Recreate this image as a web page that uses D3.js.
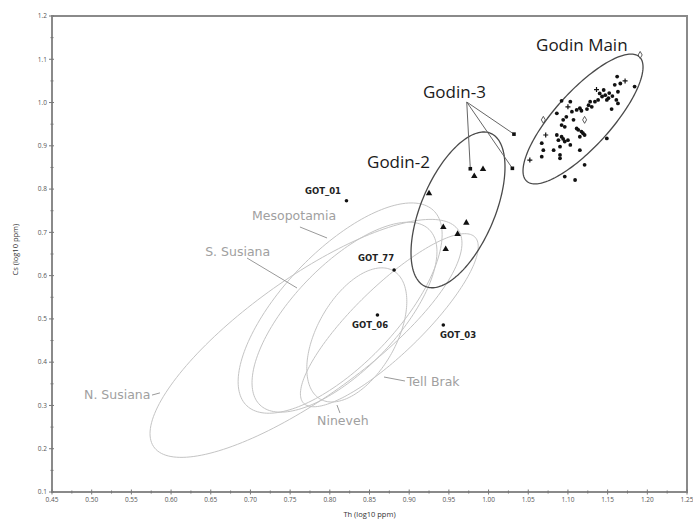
<!DOCTYPE html>
<html lang="en">
<head>
<meta charset="UTF-8">
<title>Cs vs Th</title>
<style>
  body { margin: 0; background: #fff; font-family: "Open Sans", sans-serif; }
</style>
</head>
<body>
<div id="chart"></div>
<script src="https://d3js.org/d3.v7.min.js"></script>
<script>
// ---- data (log10 ppm) ----
const xTicks = [0.45, 0.50, 0.55, 0.60, 0.65, 0.70, 0.75, 0.80, 0.85, 0.90, 0.95, 1.00, 1.05, 1.10, 1.15, 1.20, 1.25];
const yTicks = [0.1, 0.2, 0.3, 0.4, 0.5, 0.6, 0.7, 0.8, 0.9, 1.0, 1.1, 1.2];

// Godin Main samples [Th, Cs]
const godinMain = [
  [1.162, 1.060], [1.166, 1.044], [1.159, 1.041], [1.184, 1.037], [1.163, 1.025],
  [1.161, 1.006], [1.163, 0.998], [1.155, 0.985], [1.145, 1.029], [1.140, 1.021],
  [1.143, 1.014], [1.147, 1.017], [1.151, 1.010], [1.149, 1.006], [1.138, 1.006],
  [1.134, 1.002], [1.128, 1.002], [1.126, 0.994], [1.130, 0.990], [1.115, 0.987],
  [1.111, 0.983], [1.117, 0.981], [1.105, 0.979], [1.103, 1.002], [1.092, 1.004],
  [1.107, 0.960], [1.098, 0.967], [1.094, 0.960], [1.092, 0.948], [1.096, 0.944],
  [1.086, 0.975], [1.113, 0.937], [1.117, 0.933], [1.121, 0.925], [1.115, 0.921],
  [1.086, 0.925], [1.092, 0.921], [1.096, 0.910], [1.100, 0.913], [1.088, 0.913],
  [1.103, 0.902], [1.090, 0.898], [1.067, 0.906], [1.069, 0.890], [1.067, 0.875],
  [1.082, 0.890], [1.090, 0.879], [1.090, 0.871], [1.115, 0.890], [1.121, 0.856],
  [1.096, 0.829], [1.109, 0.821], [1.149, 0.917], [1.152, 1.022], [1.156, 1.015],
  [1.119, 0.929], [1.111, 0.940], [1.094, 0.916], [1.124, 0.985]
];
const godinMainCross = [[1.052, 0.867], [1.072, 0.925], [1.136, 1.030], [1.172, 1.050], [1.100, 0.990]];
const godinMainOpen = [[1.069, 0.960], [1.121, 0.960], [1.191, 1.110]];
const godin2 = [[0.925, 0.790], [0.943, 0.712], [0.972, 0.722], [0.961, 0.696], [0.946, 0.661], [0.993, 0.846], [0.982, 0.830]];
const godin3 = [[0.977, 0.847], [1.032, 0.927], [1.030, 0.848]];
const gotNames = ["GOT_01", "GOT_77", "GOT_06", "GOT_03"];
const gotTh = [0.821, 0.881, 0.860, 0.943];
const gotCs = [0.773, 0.613, 0.509, 0.486];

// reference group ellipses: centre, half-extent in x and y, correlation
const groupNames = ["N. Susiana", "Mesopotamia", "S. Susiana", "Nineveh", "Tell Brak", "Godin-2", "Godin Main"];
const groupCx = [0.770, 0.813, 0.8185, 0.834, 0.875, 0.9615, 1.119];
const groupCy = [0.455, 0.525, 0.504, 0.463, 0.497, 0.752, 0.962];
const groupRx = [0.1965, 0.1285, 0.1165, 0.063, 0.112, 0.0592, 0.0756];
const groupRy = [0.275, 0.243, 0.2195, 0.155, 0.200, 0.180, 0.150];
const groupRho = [0.80, 0.70, 0.69, 0.50, 0.85, 0.55, 0.80];
const groupDark = [false, false, false, false, false, true, true];

// text annotations [text, x, y]
const grayLabels = [["N. Susiana", 0.574, 0.324, "end"], ["S. Susiana", 0.643, 0.655, "start"], ["Mesopotamia", 0.702, 0.738, "start"],
  ["Nineveh", 0.784, 0.266, "start"], ["Tell Brak", 0.897, 0.354, "start"]];
const grayLeaders = [[0.576, 0.324, 0.586, 0.329], [0.6957, 0.6407, 0.7587, 0.5714], [0.7624, 0.7124, 0.7965, 0.687],
  [0.809, 0.301, 0.8128, 0.2825], [0.8683, 0.3657, 0.8947, 0.3565]];
const darkLabels = [["Godin Main", 1.0598, 1.133], ["Godin-3", 0.9174, 1.0244], ["Godin-2", 0.8469, 0.8626]];
const godin3From = [0.9725, 1.0012];
const gotLabelPos = [[0.7687, 0.7956], [0.8355, 0.6407], [0.828, 0.4859], [0.9388, 0.4628]];

const width = 693, height = 521;
const margin = { top: 16, right: 6, bottom: 29, left: 52 };

const svg = d3.select("#chart").append("svg")
  .attr("width", width)
  .attr("height", height)
  .attr("viewBox", [0, 0, width, height]);

const x = d3.scaleLinear().domain([0.45, 1.25]).range([margin.left, width - margin.right]);
const y = d3.scaleLinear().domain([0.1, 1.2]).range([height - margin.bottom, margin.top]);

// ellipses
const ellipsePath = i => {
  const phi = Math.acos(groupRho[i]);
  const pts = d3.range(0, 2 * Math.PI, Math.PI / 90)
    .map(t => [groupCx[i] + groupRx[i] * Math.cos(t), groupCy[i] + groupRy[i] * Math.cos(t - phi)]);
  return d3.line().x(d => x(d[0])).y(d => y(d[1])).curve(d3.curveLinearClosed)(pts);
};

svg.append("g")
  .selectAll("path")
  .data(d3.range(groupNames.length))
  .join("path")
  .attr("d", ellipsePath)
  .attr("fill", "none")
  .attr("stroke", i => groupDark[i] ? "#4a4a4a" : "#c4c4c4")
  .attr("stroke-width", i => groupDark[i] ? 1.3 : 1);

// gray leaders + labels
svg.append("g")
  .attr("stroke", "#9a9a9a")
  .selectAll("line")
  .data(grayLeaders)
  .join("line")
  .attr("x1", d => x(d[0])).attr("y1", d => y(d[1]))
  .attr("x2", d => x(d[2])).attr("y2", d => y(d[3]));

svg.append("g")
  .attr("fill", "#a0a0a0")
  .attr("font-family", "'DejaVu Sans', sans-serif")
  .attr("font-size", 12.5)
  .selectAll("text")
  .data(grayLabels)
  .join("text")
  .attr("x", d => x(d[1])).attr("y", d => y(d[2]))
  .attr("dy", "0.35em")
  .attr("text-anchor", d => d[3])
  .text(d => d[0]);

// Godin-3 leaders
svg.append("g")
  .attr("stroke", "#666")
  .selectAll("line")
  .data(godin3)
  .join("line")
  .attr("x1", x(godin3From[0])).attr("y1", y(godin3From[1]))
  .attr("x2", d => x(d[0])).attr("y2", d => y(d[1]));

// points
svg.append("g")
  .selectAll("circle")
  .data(godinMain)
  .join("circle")
  .attr("cx", d => x(d[0])).attr("cy", d => y(d[1]))
  .attr("r", 1.9)
  .attr("fill", "#111");

svg.append("g")
  .attr("stroke", "#111")
  .attr("stroke-width", 1.2)
  .selectAll("path")
  .data(godinMainCross)
  .join("path")
  .attr("d", d => `M${x(d[0]) - 2.5},${y(d[1])}h5M${x(d[0])},${y(d[1]) - 2.5}v5`);

svg.append("g")
  .selectAll("path")
  .data(godinMainOpen)
  .join("path")
  .attr("d", d3.symbol(d3.symbolDiamond, 14))
  .attr("transform", d => `translate(${x(d[0])},${y(d[1])})`)
  .attr("fill", "#fff")
  .attr("stroke", "#333")
  .attr("stroke-width", 0.8);

svg.append("g")
  .selectAll("path")
  .data(godin2)
  .join("path")
  .attr("d", d3.symbol(d3.symbolTriangle, 18))
  .attr("transform", d => `translate(${x(d[0])},${y(d[1])})`)
  .attr("fill", "#111");

svg.append("g")
  .selectAll("rect")
  .data(godin3)
  .join("rect")
  .attr("x", d => x(d[0]) - 1.8).attr("y", d => y(d[1]) - 1.8)
  .attr("width", 3.6).attr("height", 3.6)
  .attr("fill", "#111");

svg.append("g")
  .selectAll("circle")
  .data(gotTh)
  .join("circle")
  .attr("cx", d => x(d)).attr("cy", (d, i) => y(gotCs[i]))
  .attr("r", 1.8)
  .attr("fill", "#111");

svg.append("g")
  .attr("fill", "#222")
  .attr("font-family", "'DejaVu Sans', sans-serif")
  .attr("font-size", 8.5)
  .attr("font-weight", "bold")
  .selectAll("text")
  .data(gotNames)
  .join("text")
  .attr("x", (d, i) => x(gotLabelPos[i][0])).attr("y", (d, i) => y(gotLabelPos[i][1]))
  .attr("dy", "0.35em")
  .text(d => d);

svg.append("g")
  .attr("fill", "#1a1a1a")
  .attr("font-size", 17)
  .selectAll("text")
  .data(darkLabels)
  .join("text")
  .attr("x", d => x(d[1])).attr("y", d => y(d[2]))
  .attr("dy", "0.35em")
  .text(d => d[0]);

// frame and axes
svg.append("rect")
  .attr("x", x(0.45)).attr("y", y(1.2))
  .attr("width", x(1.25) - x(0.45)).attr("height", y(0.1) - y(1.2))
  .attr("fill", "none")
  .attr("stroke", "#8a8a8a")
  .attr("stroke-width", 2);

const xAxis = svg.append("g").attr("transform", `translate(0,${y(0.1)})`);
xAxis.selectAll("line.major")
  .data(xTicks)
  .join("line")
  .attr("x1", d => x(d)).attr("x2", d => x(d))
  .attr("y1", -2.5).attr("y2", 2.5)
  .attr("stroke", "#777");
xAxis.selectAll("line.minor")
  .data(xTicks.slice(1).map(d => d - 0.025))
  .join("line")
  .attr("class", "minor")
  .attr("x1", d => x(d)).attr("x2", d => x(d))
  .attr("y1", -1.5).attr("y2", 1.5)
  .attr("stroke", "#777");
xAxis.selectAll("text")
  .data(xTicks)
  .join("text")
  .attr("x", d => x(d)).attr("y", 10)
  .attr("text-anchor", "middle")
  .attr("font-size", 6.5)
  .attr("fill", "#555")
  .text(d => d.toFixed(2));

const yAxis = svg.append("g").attr("transform", `translate(${x(0.45)},0)`);
yAxis.selectAll("line.major")
  .data(yTicks)
  .join("line")
  .attr("y1", d => y(d)).attr("y2", d => y(d))
  .attr("x1", -3).attr("x2", 2)
  .attr("stroke", "#777");
yAxis.selectAll("line.minor")
  .data(yTicks.slice(1).map(d => d - 0.05))
  .join("line")
  .attr("class", "minor")
  .attr("y1", d => y(d)).attr("y2", d => y(d))
  .attr("x1", -1.5).attr("x2", 1.5)
  .attr("stroke", "#777");
yAxis.selectAll("text")
  .data(yTicks)
  .join("text")
  .attr("x", -5).attr("y", d => y(d))
  .attr("dy", "0.35em")
  .attr("text-anchor", "end")
  .attr("font-size", 6.5)
  .attr("fill", "#555")
  .text(d => d.toFixed(1));

svg.append("text")
  .attr("x", x(0.85)).attr("y", height - 4)
  .attr("text-anchor", "middle")
  .attr("font-size", 7.5)
  .attr("fill", "#333")
  .text("Th (log10 ppm)");

svg.append("text")
  .attr("transform", `translate(18,${y(0.66)}) rotate(-90)`)
  .attr("text-anchor", "middle")
  .attr("font-size", 7.5)
  .attr("fill", "#333")
  .text("Cs (log10 ppm)");
</script>
</body>
</html>
